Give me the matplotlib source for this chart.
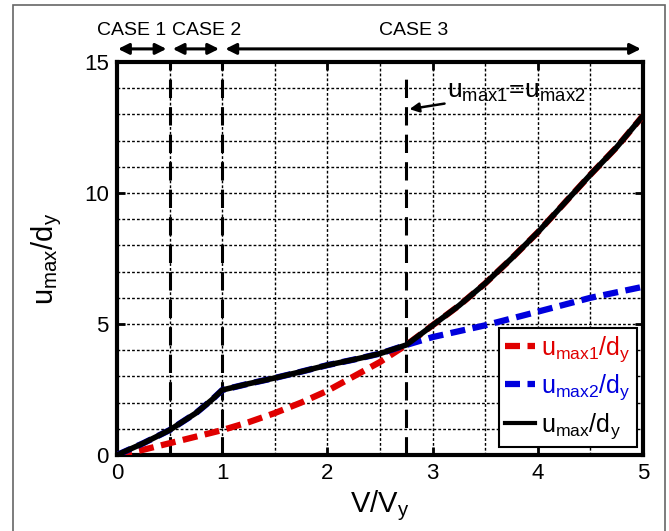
import matplotlib
matplotlib.use("Agg")
import matplotlib.pyplot as plt
from matplotlib.patches import Rectangle
import numpy as np

plt.rcParams['font.family'] = ['Liberation Sans', 'DejaVu Sans']
plt.rcParams['mathtext.fontset'] = 'custom'
plt.rcParams['mathtext.rm'] = 'Liberation Sans'
plt.rcParams['mathtext.it'] = 'Liberation Sans'

# data
x1 = [0, 0.25, 0.5, 0.75, 1.0, 1.25, 1.5, 1.75, 2.0, 2.25, 2.5, 2.75,
      3.0, 3.25, 3.5, 3.75, 4.0, 4.25, 4.5, 4.75, 5.0]
u_max1 = [0, 0.2, 0.45, 0.7, 0.95, 1.25, 1.6, 2.0, 2.45, 3.0, 3.55, 4.2,
          4.95, 5.7, 6.55, 7.5, 8.5, 9.6, 10.7, 11.75, 12.95]
x2 = [0, 0.25, 0.5, 0.75, 0.9, 1.0, 1.25, 1.5, 1.75, 2.0, 2.25, 2.5, 2.75,
      3.0, 3.5, 4.0, 4.5, 5.0]
u_max2 = [0, 0.45, 0.95, 1.6, 2.1, 2.48, 2.72, 2.94, 3.18, 3.43, 3.64, 3.87, 4.2,
          4.5, 4.95, 5.47, 6.0, 6.42]
x3 = [0, 0.25, 0.5, 0.75, 0.9, 1.0, 1.25, 1.5, 1.75, 2.0, 2.25, 2.5, 2.75,
      3.0, 3.25, 3.5, 3.75, 4.0, 4.25, 4.5, 4.75, 5.0]
u_max = [0, 0.45, 0.95, 1.6, 2.1, 2.48, 2.72, 2.94, 3.18, 3.43, 3.64, 3.87, 4.2,
         4.95, 5.7, 6.55, 7.5, 8.5, 9.6, 10.7, 11.75, 12.95]
case_bounds = [0.5, 1.0]
equal_x = 2.75
case_labels = ['CASE 1', 'CASE 2', 'CASE 3']

fig = plt.figure(figsize=(6.69, 5.31), dpi=100)
ax = fig.add_axes([117/669, 1-455/531, (643-117)/669, (455-62)/531])

# figure border
fig.patches.append(Rectangle((13/669, -0.05), (665-13)/669, 1.05-5/531,
                             transform=fig.transFigure, fill=False,
                             edgecolor='#666666', lw=1.2))

ax.set_xlim(0, 5)
ax.set_ylim(0, 15)
ax.set_xticks(np.arange(0, 5.01, 1))
ax.set_xticks(np.arange(0, 5.01, 0.5), minor=True)
ax.set_yticks([0, 5, 10, 15])
ax.set_yticks(np.arange(0, 15.01, 1), minor=True)
ax.grid(True, which='both', color='black', linestyle=(0, (2, 1.5)), lw=1.0)
ax.set_axisbelow(True)
ax.tick_params(which='major', direction='in', length=6, width=2,
               top=True, right=True, labelsize=16, pad=6)
ax.tick_params(which='minor', length=0)
for s in ax.spines.values():
    s.set_linewidth(3)

for xb in case_bounds:
    ax.axvline(xb, color='black', lw=2.2, ls=(0, (6, 3)), zorder=2)
ax.plot([equal_x, equal_x], [0, 14.7], color='black', lw=2.2, ls=(0, (6, 3)), zorder=2)

ax.plot(x1, u_max1, color='#e00000', lw=4.5, ls=(0, (2.4, 1.2)), label=r'$\mathrm{u_{max1}/d_y}$', zorder=3)
ax.plot(x2, u_max2, color='#0000dd', lw=4.5, ls=(0, (2.4, 1.2)), label=r'$\mathrm{u_{max2}/d_y}$', zorder=3)
ax.plot(x3, u_max, color='black', lw=4, label=r'$\mathrm{u_{max}/d_y}$', zorder=4)

leg = ax.legend(loc='lower right', fontsize=18, frameon=True, fancybox=False,
                edgecolor='black', handlelength=1.2, handletextpad=0.25,
                borderpad=0.25, labelspacing=0.35, borderaxespad=0,
                bbox_to_anchor=(0.989, 0.02))
leg.get_frame().set_linewidth(1.5)
leg.get_frame().set_alpha(1)
for line in leg.get_lines()[2:]:
    line.set_linewidth(3)
for t, c in zip(leg.get_texts(), ['#e00000', '#0000dd', 'black']):
    t.set_color(c)

ax.annotate(r'$\mathrm{u_{max1}\!=\!u_{max2}}$', xy=(2.78, 13.2), xytext=(3.14, 13.85),
            fontsize=19, va='center', ha='left',
            arrowprops=dict(arrowstyle='-|>', color='black', lw=1.8, mutation_scale=14,
                            shrinkA=0, shrinkB=0))

# case arrows
arr_y = 15.5
spans = [(0.01, 0.47), (0.53, 0.97), (1.03, 4.98)]
for (a, b) in spans:
    ax.annotate('', xy=(b, arr_y), xytext=(a, arr_y), annotation_clip=False,
                arrowprops=dict(arrowstyle='<|-|>', color='black', lw=2.2,
                                mutation_scale=16, shrinkA=0, shrinkB=0))
text_x = [0.14, 0.85, 2.82]
for tx, lab in zip(text_x, case_labels):
    ax.text(tx, 16.2, lab, ha='center', va='center', fontsize=14, clip_on=False)

ax.set_xlabel(r'$\mathrm{V/V_y}$', fontsize=21, labelpad=3)
ax.set_ylabel(r'$\mathrm{u_{max}/d_y}$', fontsize=21, labelpad=14)

fig.savefig('out.png', dpi=100)
